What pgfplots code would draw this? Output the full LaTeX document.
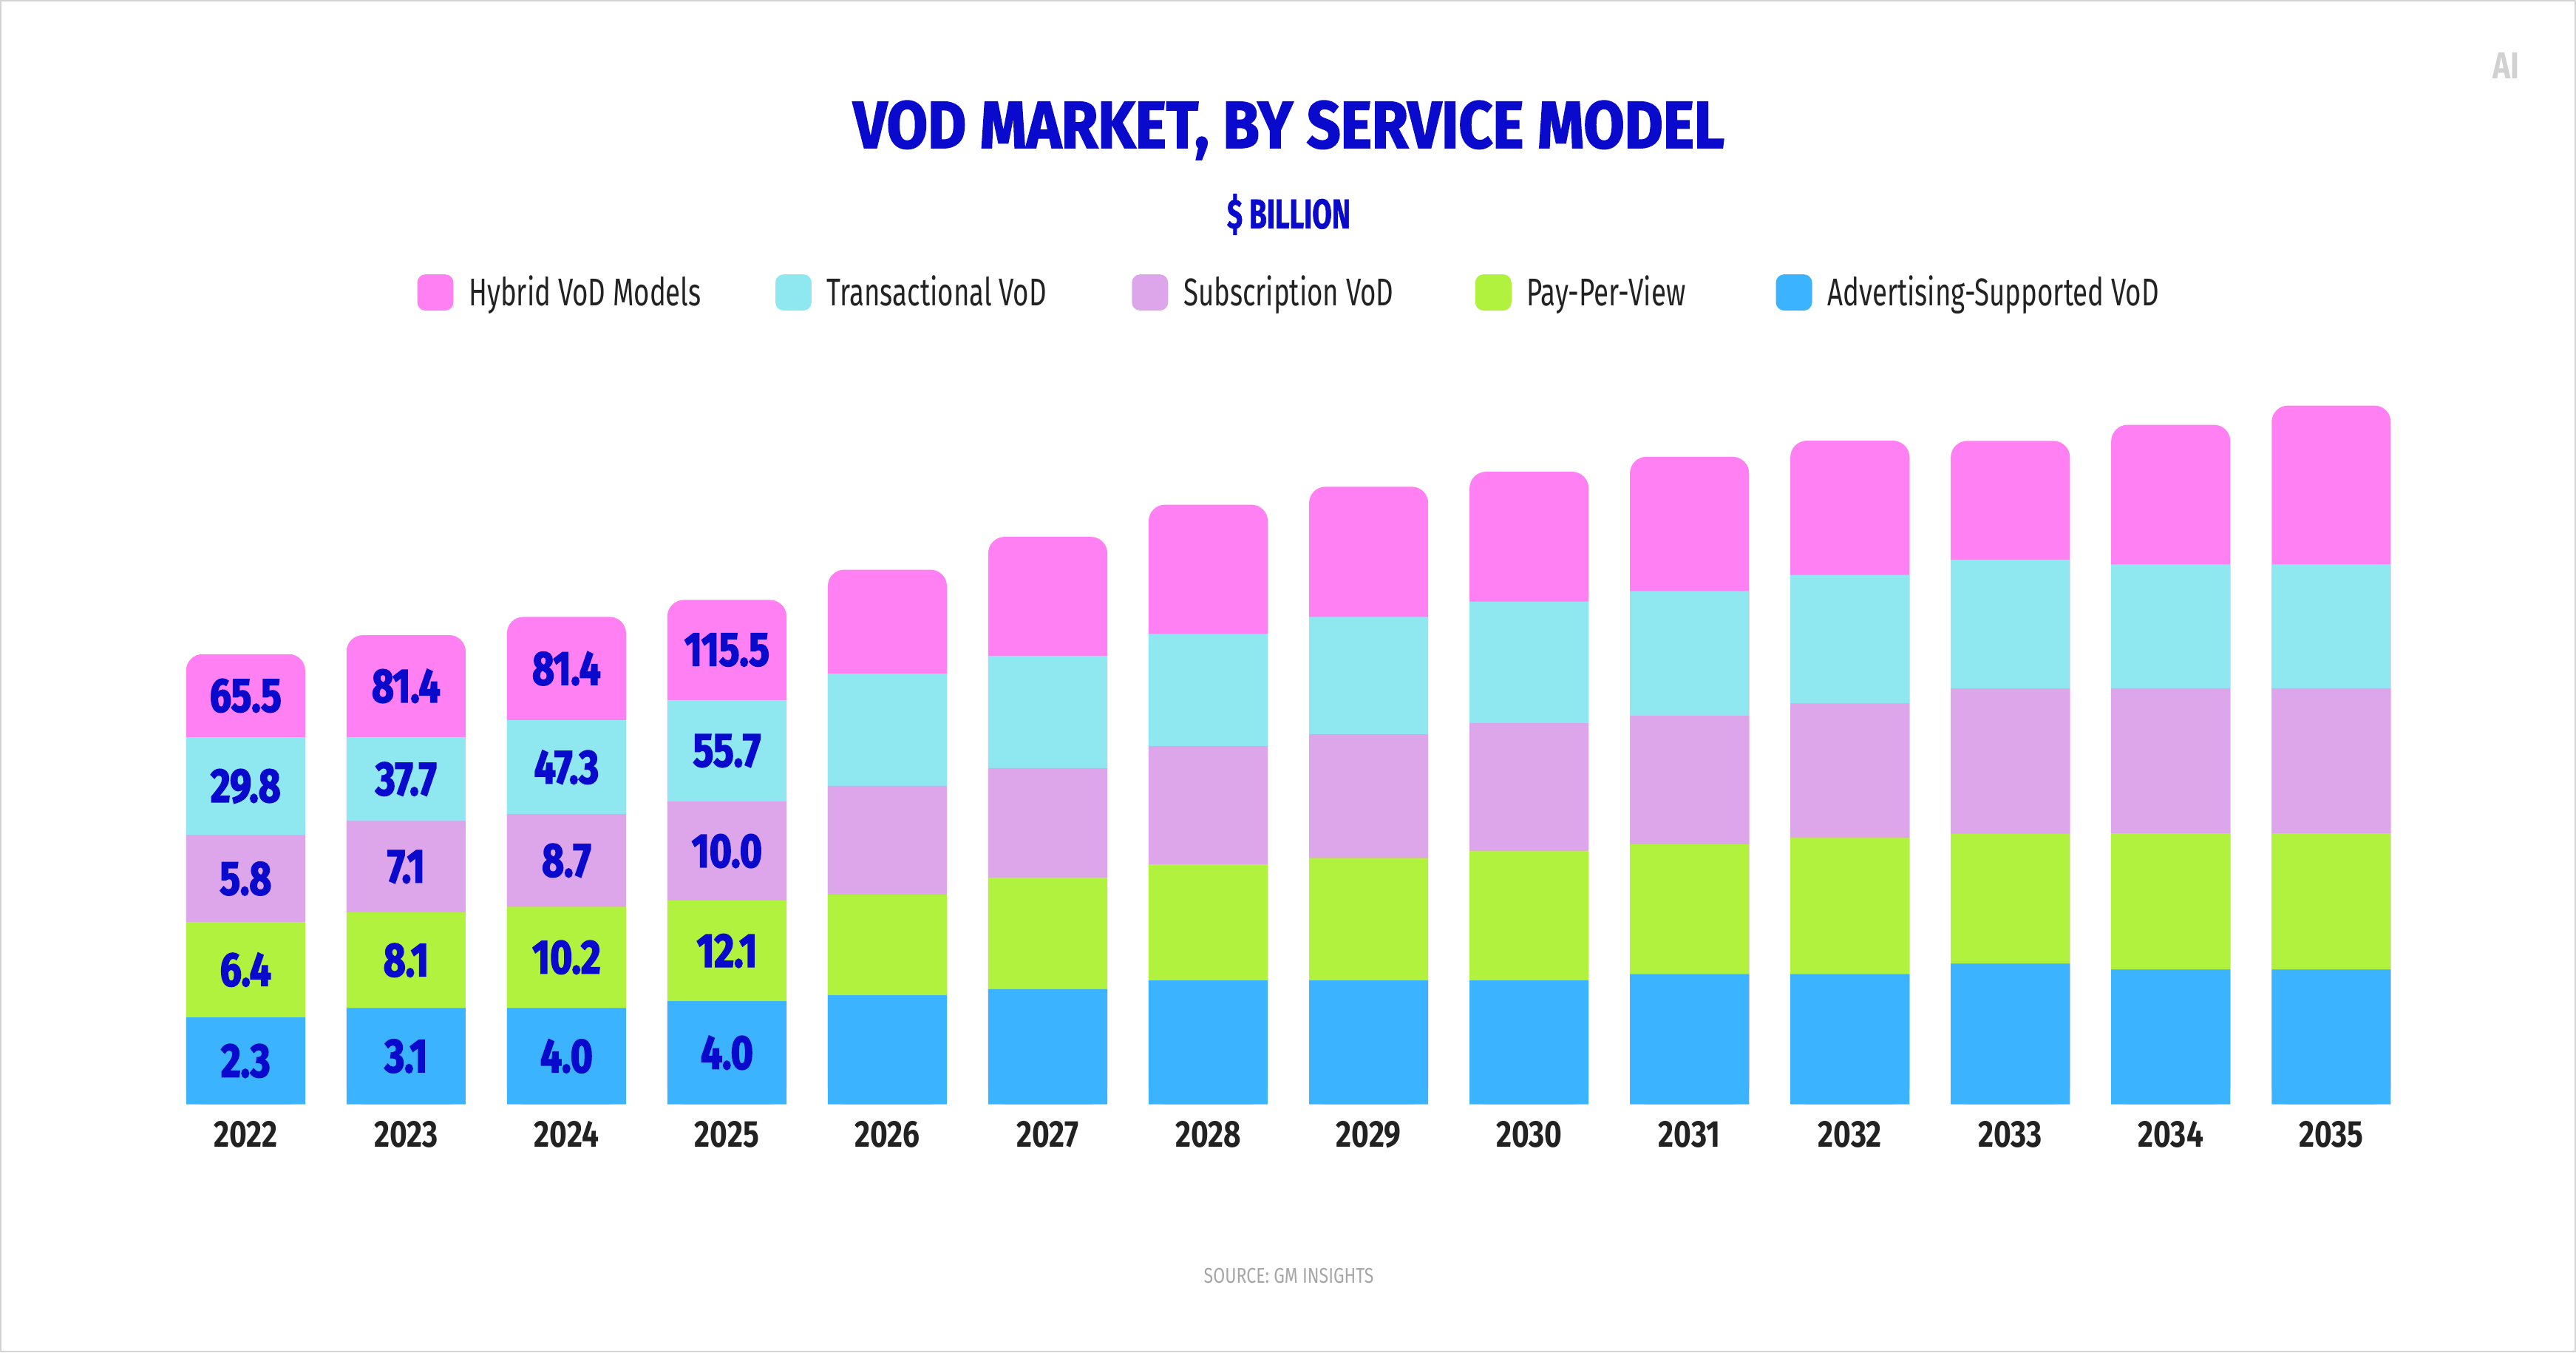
\documentclass[border=0pt]{standalone}
\usepackage{fontspec}
\setmainfont{Fira Sans}[FakeStretch=0.8]
\newfontfamily\heavyfont{Fira Sans}[FakeStretch=0.8, FakeBold=2.5]
\newfontfamily\titlefont{Fira Sans}[FakeStretch=0.89, FakeBold=2]
\newfontfamily\subfont{Fira Sans}[FakeStretch=0.68, FakeBold=1]
\newfontfamily\legfont{Fira Sans}[FakeStretch=0.7]
\usepackage{pgfplots}
\usepackage{pgfplotstable}
\pgfplotsset{compat=1.18}
\definecolor{cpink}{HTML}{FF80F2}
\definecolor{ccyan}{HTML}{8FE8F0}
\definecolor{clav}{HTML}{DDA6EA}
\definecolor{clime}{HTML}{B0F23E}
\definecolor{cblue}{HTML}{3BB3FE}
\definecolor{ctitle}{HTML}{0A0ACD}
\definecolor{ctext}{HTML}{222222}
\definecolor{cframe}{HTML}{D4D4D4}

% heights of the drawn segments (picture units) and the printed labels
\pgfplotstableread{
x  blue green purple cyan pink total lb  lg   lp   lc   lk
0  52.8 58.1  52.8   59.7 50.5 273.9 2.3 6.4  5.8  29.8 65.5
1  58.6 58.1  55.6   51.2 62.0 285.5 3.1 8.1  7.1  37.7 81.4
2  58.6 61.6  56.3   57.2 62.9 296.6 4.0 10.2 8.7  47.3 81.4
3  62.7 61.3  60.2   61.8 60.9 306.9 4.0 12.1 10.0 55.7 115.5
4  66.3 61.2  66.3   68.3 63.2 325.3 {}  {}   {}   {}   {}
5  70.0 68.0  66.6   68.3 72.4 345.3 {}  {}   {}   {}   {}
6  75.3 70.7  71.9   68.3 78.7 364.9 {}  {}   {}   {}   {}
7  75.3 74.6  75.3   71.4 79.2 375.8 {}  {}   {}   {}   {}
8  75.3 79.0  77.5   74.1 79.0 384.9 {}  {}   {}   {}   {}
9  79.2 78.9  78.3   75.9 81.7 394.0 {}  {}   {}   {}   {}
10 79.2 83.2  81.4   78.3 81.7 403.8 {}  {}   {}   {}   {}
11 85.6 79.2  88.3   78.3 72.3 403.7 {}  {}   {}   {}   {}
12 82.0 82.9  88.3   75.3 85.0 413.5 {}  {}   {}   {}   {}
13 82.0 82.9  88.3   75.3 96.7 425.2 {}  {}   {}   {}   {}
}\data

\pgfplotsset{
  base/.style={
    at={(2.014cm,3.02cm)}, anchor=south west, scale only axis,
    width=27.342cm, height=10cm,
    xmin=-0.5, xmax=13.5, ymin=0, ymax=500, enlargelimits=false,
  },
}

\begin{document}
\begin{tikzpicture}
\useasboundingbox (0,0) rectangle (31.36cm,16.46cm);
\begin{scope}[x=0.2mm, y=-0.2mm, shift={(0,164.6mm)}]
  \draw[cframe, line width=0.2mm] (0.5,0.5) rectangle (1567.5,822.5);
  % title
  \node[anchor=base, inner sep=0pt, text=ctitle] at (784.5,90)
    {\titlefont\bfseries\fontsize{23}{23}\selectfont VOD MARKET, BY SERVICE MODEL};
  \node[anchor=base, inner sep=0pt, text=ctitle] at (784.5,139)
    {\subfont\bfseries\fontsize{14.4}{14.4}\selectfont \$ BILLION};
  % legend
  \foreach \xx/\cc/\tt in {254/cpink/Hybrid VoD Models, 472/ccyan/Transactional VoD,
      689/clav/Subscription VoD, 898/clime/Pay-Per-View, 1081/cblue/Advertising-Supported VoD}{
    \fill[\cc, rounded corners=1mm] (\xx,167) rectangle ++(22,22);
    \node[anchor=base west, inner sep=0pt, text=ctext] at (\xx+31,186)
      {\legfont\fontsize{13.4}{13.4}\selectfont \tt};
  }
  % source
  \node[anchor=base, inner sep=0pt, text=black!35] at (784.5,781)
    {\fontsize{7.4}{7.4}\selectfont SOURCE: GM INSIGHTS};
  % logo
  \node[anchor=base, inner sep=0pt, text=black!18] at (1525.5,48)
    {\bfseries\fontsize{13}{13}\selectfont AI};
\end{scope}

% background full-height bars with rounded tops (pink)
\begin{axis}[base, hide axis, ybar, bar width=1.45cm, bar shift=0pt]
  \addplot[fill=cpink, draw=none, rounded corners=2mm] table[x=x, y=total] {\data};
\end{axis}

% stacked segments with labels (centred in each segment)
\begin{axis}[base, ybar stacked, bar width=1.45cm,
    axis line style={draw=none}, major tick length=0pt,
    ytick=\empty, xtick={0,...,13},
    xticklabels={2022,2023,2024,2025,2026,2027,2028,2029,2030,2031,2032,2033,2034,2035},
    xticklabel style={anchor=north, inner sep=0pt, yshift=-2mm, text=ctext,
      font=\bfseries\fontsize{13}{13}\selectfont},
    point meta=explicit symbolic, nodes near coords,
    every node near coord/.append style={anchor=center, inner sep=0pt, text=ctitle,
      font=\heavyfont\bfseries\fontsize{16.5}{16.5}\selectfont},
  ]
  \addplot[fill=cblue, draw=none] table[x=x, y=blue, meta=lb] {\data};
  \addplot[fill=clime, draw=none] table[x=x, y=green, meta=lg] {\data};
  \addplot[fill=clav, draw=none] table[x=x, y=purple, meta=lp] {\data};
  \addplot[fill=ccyan, draw=none] table[x=x, y=cyan, meta=lc] {\data};
  \addplot[fill=none, draw=none] table[x=x, y=pink, meta=lk] {\data};
\end{axis}
\end{tikzpicture}
\end{document}
